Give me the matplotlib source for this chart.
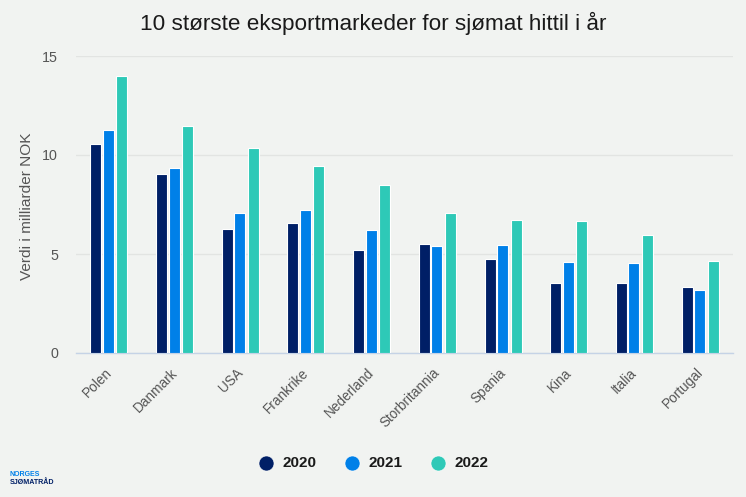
import matplotlib
matplotlib.use("Agg")
import numpy as np
import matplotlib.pyplot as plt
from matplotlib.transforms import ScaledTranslation

plt.rcParams['font.family'] = ['Liberation Sans', 'DejaVu Sans']

countries = ["Polen", "Danmark", "USA", "Frankrike", "Nederland",
             "Storbritannia", "Spania", "Kina", "Italia", "Portugal"]
v2020 = [10.55, 9.05, 6.25, 6.55, 5.2, 5.5, 4.75, 3.55, 3.55, 3.35]
v2021 = [11.25, 9.35, 7.05, 7.2, 6.2, 5.4, 5.45, 4.6, 4.55, 3.2]
v2022 = [14.0, 11.45, 10.35, 9.45, 8.5, 7.05, 6.7, 6.65, 5.95, 4.65]
years = ["2020", "2021", "2022"]
colors = ["#001f66", "#0080e8", "#2ec9b7"]

W, H = 746, 497
bg = "#f1f3f1"

fig = plt.figure(figsize=(W / 100, H / 100), dpi=100, facecolor=bg)
# axes box in pixels: x 76-733, y 56-353
ax = fig.add_axes([76 / W, 1 - 353 / H, 657 / W, 297 / H], facecolor=bg)

x = np.arange(len(countries))
band = 65.7
offsets = [-13 / band, -0.5 / band, 13 / band]
for i, vals in enumerate([v2020, v2021, v2022]):
    ax.bar(x + offsets[i], vals, width=11 / band, color=colors[i],
           edgecolor="white", linewidth=0.8, zorder=3)

ax.set_xlim(-0.5, 9.5)
ax.set_ylim(0, 15)
ax.set_yticks([0, 5, 10, 15])
ax.set_xticks(x)
ax.set_xticklabels(countries, rotation=45, ha="right", rotation_mode="anchor")
ax.tick_params(axis="both", length=0, labelcolor="#555555")
ax.tick_params(axis="y", labelsize=10.3, pad=13)
ax.tick_params(axis="x", labelsize=9.8, pad=9)
ax.grid(axis="y", color="#e2e4e2", linewidth=1, zorder=0)
ax.set_axisbelow(True)
for s in ["top", "right", "left"]:
    ax.spines[s].set_visible(False)
ax.spines["bottom"].set_color("#c5d3e6")
ax.spines["bottom"].set_linewidth(1)

# nudge the rotated labels left
shift = ScaledTranslation(-4.5 / 100, 0, fig.dpi_scale_trans)
for lbl in ax.get_xticklabels():
    lbl.set_transform(lbl.get_transform() + shift)

fig.text(27 / W, 1 - 206 / H, "Verdi i milliarder NOK", rotation=90, ha="center",
         va="center", fontsize=11.1, color="#555555")
fig.text(373.5 / W, 1 - 23 / H, "10 største eksportmarkeder for sjømat hittil i år",
         ha="center", va="center", fontsize=16.2, color="#1a1a1a")

# legend
for px, year, col in zip([266, 352, 438], years, colors):
    fig.add_artist(plt.Line2D([px / W], [1 - 462.5 / H], marker="o", markersize=10.8,
                              color=col, markeredgecolor="white", markeredgewidth=0.4,
                              linestyle="none", transform=fig.transFigure))
    fig.text((px + 16.5) / W, 1 - 463 / H, year, ha="left", va="center",
             fontsize=11, fontweight="bold", color="#1a1a1a")

# logo
fig.text(10 / W, 1 - 475 / H, "NORGES", ha="left", va="center", fontsize=5,
         fontweight="bold", color="#0080e8")
fig.text(10 / W, 1 - 482.5 / H, "SJØMATRÅD", ha="left", va="center", fontsize=5.1,
         fontweight="bold", color="#001f66")

fig.savefig("out.png", dpi=100, facecolor=bg)
